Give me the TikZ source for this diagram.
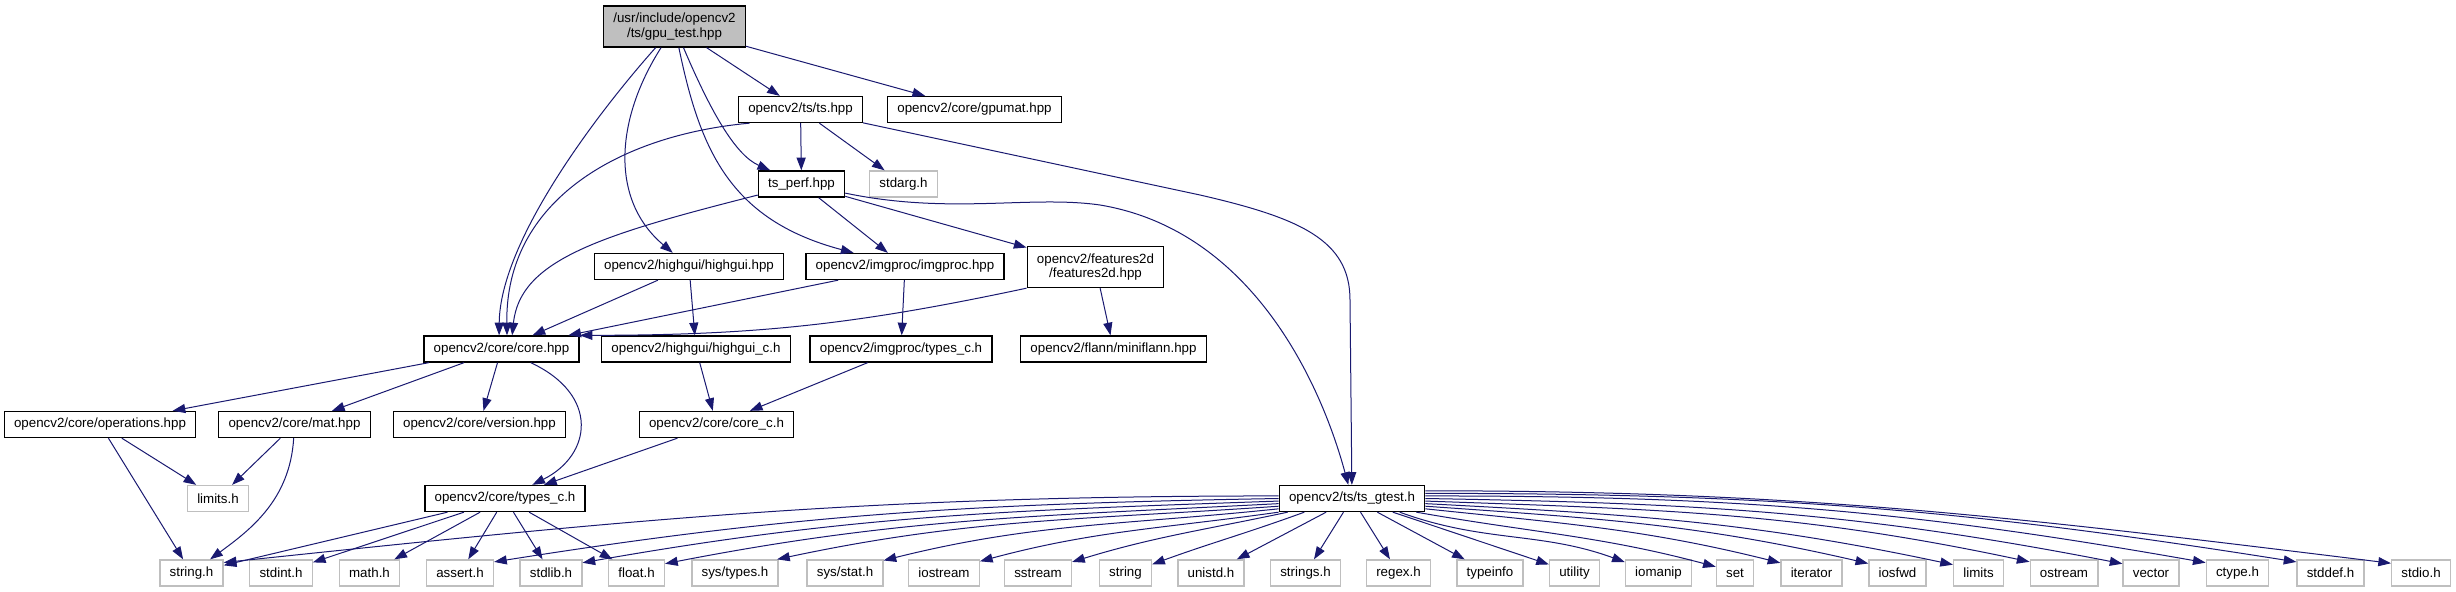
\documentclass[tikz,border=0pt]{standalone}
\usepackage{fontspec}
\setmainfont{Liberation Sans}
\usepackage{tikz}
\usetikzlibrary{arrows.meta}
\definecolor{edgeBlue}{HTML}{191970}
\definecolor{extGray}{HTML}{BFBFBF}
\definecolor{rootGray}{HTML}{BFBFBF}

\begin{document}
\begin{tikzpicture}[x=0.75pt,y=-0.75pt,
  font=\fontsize{10}{11}\selectfont,
  box/.style={draw=black,line width=1pt,inner xsep=7.3pt,inner ysep=0pt,minimum height=19.5pt,align=center},
  extbox/.style={box,draw=extGray},
  twoline/.style={box,minimum height=30.75pt},
  dep/.style={draw=edgeBlue,line width=0.75pt,-{Triangle[length=9.5pt,width=6.8pt]}}]
\useasboundingbox (0,0) rectangle (2456,592);
% dosyalar
\node[twoline,fill=rootGray] (gputest) at (674.5,26.5) {/usr/include/opencv2\\/ts/gpu\_test.hpp};
\node[box] (tshpp) at (800.5,109.5) {opencv2/ts/ts.hpp};
\node[box] (gpumat) at (974.5,109.5) {opencv2/core/gpumat.hpp};
\node[box] (tsperf) at (801.5,184) {ts\_perf.hpp};
\node[extbox] (stdarg) at (903.5,184) {stdarg.h};
\node[box] (highgui) at (689,266.5) {opencv2/highgui/highgui.hpp};
\node[box] (imgproc) at (905,266.5) {opencv2/imgproc/imgproc.hpp};
\node[twoline] (feat2d) at (1095.5,267) {opencv2/features2d\\/features2d.hpp};
\node[box] (corehpp) at (501.5,349) {opencv2/core/core.hpp};
\node[box] (highguic) at (696,349) {opencv2/highgui/highgui\_c.h};
\node[box] (imgtypes) at (901,349) {opencv2/imgproc/types\_c.h};
\node[box] (miniflann) at (1113.5,349) {opencv2/flann/miniflann.hpp};
\node[box] (operations) at (100,424.5) {opencv2/core/operations.hpp};
\node[box] (mathpp) at (294.5,424.5) {opencv2/core/mat.hpp};
\node[box] (version) at (479.5,424.5) {opencv2/core/version.hpp};
\node[box] (corec) at (716.5,424.5) {opencv2/core/core\_c.h};
\node[extbox] (limitsh) at (218,498.5) {limits.h};
\node[box] (coretypes) at (505,498.5) {opencv2/core/types\_c.h};
\node[box] (gtest) at (1352,498.5) {opencv2/ts/ts\_gtest.h};
% sistem basliklari
\node[extbox] (stringh) at (191.5,573) {string.h};
\node[extbox] (stdinth) at (281,573) {stdint.h};
\node[extbox] (mathh) at (369.5,573) {math.h};
\node[extbox] (asserth) at (460,573) {assert.h};
\node[extbox] (stdlibh) at (551,573) {stdlib.h};
\node[extbox] (floath) at (636.5,573) {float.h};
\node[extbox] (systypes) at (735,573) {sys/types.h};
\node[extbox] (sysstat) at (845,573) {sys/stat.h};
\node[extbox] (iostream) at (944,573) {iostream};
\node[extbox] (sstream) at (1038,573) {sstream};
\node[extbox] (stringx) at (1125.5,573) {string};
\node[extbox] (unistd) at (1211,573) {unistd.h};
\node[extbox] (stringsh) at (1305.5,573) {strings.h};
\node[extbox] (regexh) at (1398.5,573) {regex.h};
\node[extbox] (typeinfo) at (1490,573) {typeinfo};
\node[extbox] (utility) at (1574.5,573) {utility};
\node[extbox] (iomanip) at (1658.5,573) {iomanip};
\node[extbox] (setx) at (1735,573) {set};
\node[extbox] (iterator) at (1811.5,573) {iterator};
\node[extbox] (iosfwd) at (1897.5,573) {iosfwd};
\node[extbox] (limitsx) at (1978.5,573) {limits};
\node[extbox] (ostream) at (2064,573) {ostream};
\node[extbox] (vectorx) at (2151,573) {vector};
\node[extbox] (ctypeh) at (2237.5,573) {ctype.h};
\node[extbox] (stddefh) at (2330.5,573) {stddef.h};
\node[extbox] (stdioh) at (2421,573) {stdio.h};
% gpu_test.hpp
\draw[dep] (gputest) -- (tshpp);
\draw[dep] (gputest) -- (gpumat);
\draw[dep] (gputest) .. controls (600,110) and (500,240) .. (corehpp.100);
\draw[dep] (gputest) .. controls (615,120) and (610,200) .. (highgui);
\draw[dep] (gputest) .. controls (700,150) and (730,220) .. (imgproc);
\draw[dep] (gputest) .. controls (710,110) and (735,155) .. (tsperf);
% ts.hpp
\draw[dep] (tshpp) -- (tsperf);
\draw[dep] (tshpp) -- (stdarg);
\draw[dep] (tshpp.195) .. controls (620,135) and (505,200) .. (corehpp.68);
\draw[dep] (tshpp) -- (1200,195) .. controls (1300,218) and (1350,240) .. (1350,300) -- (gtest);
% ts_perf.hpp
\draw[dep] (tsperf) .. controls (600,235) and (520,260) .. (corehpp.52);
\draw[dep] (tsperf) -- (imgproc);
\draw[dep] (tsperf) -- (feat2d);
\draw[dep] (tsperf) .. controls (950,215) and (1030,195) .. (1100,205) .. controls (1250,230) and (1320,380) .. (gtest);
% orta katman
\draw[dep] (highgui) -- (corehpp);
\draw[dep] (highgui) -- (highguic);
\draw[dep] (imgproc) -- (corehpp);
\draw[dep] (imgproc) -- (imgtypes);
\draw[dep] (feat2d.south west) to[bend left=6] (corehpp.north east);
\draw[dep] (feat2d) -- (miniflann);
\draw[dep] (corehpp) -- (operations);
\draw[dep] (corehpp) -- (mathpp);
\draw[dep] (corehpp) -- (version);
\draw[dep] (corehpp) .. controls (600,395) and (592,455) .. (coretypes);
\draw[dep] (highguic) -- (corec);
\draw[dep] (imgtypes) -- (corec);
\draw[dep] (corec) -- (coretypes);
\draw[dep] (operations) -- (limitsh);
\draw[dep] (operations) -- (stringh);
\draw[dep] (mathpp) -- (limitsh);
\draw[dep] (mathpp) .. controls (290,500) and (250,530) .. (stringh);
% types_c.h
\draw[dep] (coretypes) -- (stringh);
\draw[dep] (coretypes) -- (stdinth);
\draw[dep] (coretypes) -- (mathh);
\draw[dep] (coretypes) -- (asserth);
\draw[dep] (coretypes) -- (stdlibh);
\draw[dep] (coretypes) -- (floath);
% ts_gtest.h sola
\draw[dep] (gtest.178) to[out=180,in=6] (stringh.18);
\draw[dep] (gtest.180) to[out=181,in=9] (asserth.18);
\draw[dep] (gtest.182) to[out=182,in=10] (stdlibh.18);
\draw[dep] (gtest.184) to[out=183,in=11] (floath.18);
\draw[dep] (gtest.186) to[out=184,in=12] (systypes.18);
\draw[dep] (gtest.188) to[out=186,in=14] (sysstat.18);
\draw[dep] (gtest.south west) to[out=188,in=15] (iostream.18);
\draw[dep] (gtest.192) to[out=192,in=17] (sstream.18);
\draw[dep] (gtest.196) to[out=200,in=20] (stringx.18);
\draw[dep] (gtest) -- (unistd);
\draw[dep] (gtest) -- (stringsh);
\draw[dep] (gtest) -- (regexh);
% ts_gtest.h saga
\draw[dep] (gtest) -- (typeinfo);
\draw[dep] (gtest) -- (utility);
\draw[dep] (gtest.-16) to[out=-20,in=160] (iomanip.162);
\draw[dep] (gtest.-12) to[out=-10,in=165] (setx.162);
\draw[dep] (gtest.-8) to[out=-6,in=166] (iterator.162);
\draw[dep] (gtest.-6) to[out=-4,in=167] (iosfwd.162);
\draw[dep] (gtest.-4) to[out=-3,in=168] (limitsx.162);
\draw[dep] (gtest.-2) to[out=-2,in=168] (ostream.162);
\draw[dep] (gtest.0) to[out=-1,in=169] (vectorx.162);
\draw[dep] (gtest.2) to[out=0,in=170] (ctypeh.162);
\draw[dep] (gtest.4) to[out=0,in=171] (stddefh.162);
\draw[dep] (gtest.6) to[out=0,in=173] (stdioh.162);
\end{tikzpicture}
\end{document}
